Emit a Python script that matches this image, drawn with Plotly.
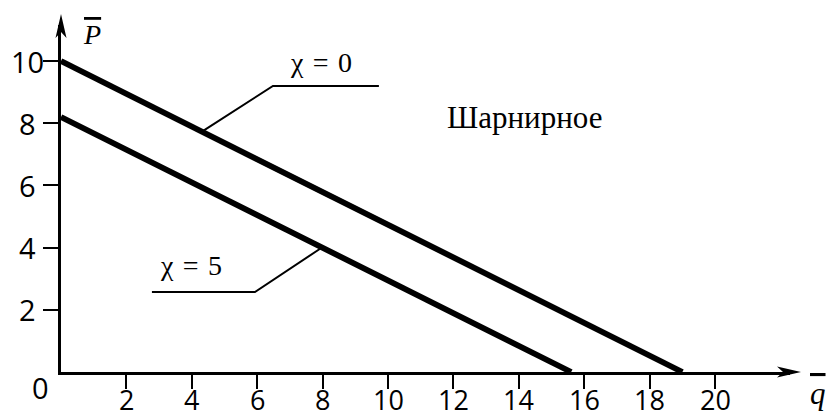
import numpy as np
import plotly.graph_objects as go

# Critical load P vs distributed load q for a hinged support, two values of chi
q_chi0 = [0.0, 19.0]
P_chi0 = [10.0, 0.0]
q_chi5 = [0.0, 15.6]
P_chi5 = [8.2, 0.0]

x_ticks = [2, 4, 6, 8, 10, 12, 14, 16, 18, 20]
y_ticks = [2, 4, 6, 8, 10]

X_MAX = 22.29
Y_MAX = 11.16

TICK_FONT = dict(family="Open Sans", size=29, color="black")
XTICK_FONT = dict(family="Open Sans", size=27, color="black")
SERIF = "Liberation Serif, Times New Roman, Times, serif"
GAP = "\u2004"  # slightly wider space around the equals sign

fig = go.Figure()

# main curves
for q, p in ((q_chi0, P_chi0), (q_chi5, P_chi5)):
    fig.add_trace(go.Scatter(x=q, y=p, mode="lines",
                             line=dict(color="black", width=5.8),
                             hoverinfo="skip", showlegend=False))

# leader lines from the labels to each curve
def leader(q_line, p_line, q_touch, q_elbow, p_elbow, q_end):
    p_touch = float(np.interp(q_touch, q_line, p_line))
    fig.add_trace(go.Scatter(x=[q_touch, q_elbow, q_end],
                             y=[p_touch, p_elbow, p_elbow],
                             mode="lines", line=dict(color="black", width=2),
                             hoverinfo="skip", showlegend=False))

leader(q_chi0, P_chi0, 4.31, 6.48, 9.20, 9.72)
leader(q_chi5, P_chi5, 7.98, 5.93, 2.57, 2.78)

# text placed in axis units, converted to paper fractions so that
# labels outside the axis ranges are still drawn
annotations = [
    dict(x=7.95, y=9.94, text=f"χ{GAP}={GAP}0", font=dict(family=SERIF, size=28)),
    dict(x=3.98, y=3.41, text=f"χ{GAP}={GAP}5", font=dict(family=SERIF, size=28)),
    dict(x=14.16, y=8.18, text="Шарнирное", font=dict(family=SERIF, size=31)),
    dict(x=0.95, y=10.87,
         text='<span style="text-decoration:overline"><i>P</i></span>',
         font=dict(family=SERIF, size=28)),
    dict(x=23.15, y=-0.68,
         text='<span style="text-decoration:overline"><i>q</i></span>',
         font=dict(family=SERIF, size=31)),
    dict(x=-0.64, y=-0.51, text="0", font=dict(TICK_FONT)),
]
for v in y_ticks:
    annotations.append(dict(x=-1.02, y=v, text=str(v), font=dict(TICK_FONT)))
for v in x_ticks:
    annotations.append(dict(x=v, y=-0.90, text=str(v), font=dict(XTICK_FONT)))

for a in annotations:
    a["x"] = a["x"] / X_MAX
    a["y"] = a["y"] / Y_MAX
    a.update(xref="paper", yref="paper", showarrow=False,
             xanchor="center", yanchor="middle")
    a["font"].setdefault("color", "black")

# arrowheads at the ends of both axes
arrow = dict(type="path", xsizemode="pixel", ysizemode="pixel",
             fillcolor="black", line=dict(width=0), layer="above")
fig.add_shape(**arrow, xref="x domain", yref="y domain", xanchor=1, yanchor=0,
              path="M 11 0 L -13 5.5 L -7 0 L -13 -5.5 Z")
fig.add_shape(**arrow, xref="x domain", yref="y domain", xanchor=0, yanchor=1,
              path="M 0 11 L 5.5 -13 L 0 -7 L -5.5 -13 Z")

axis_common = dict(showline=True, linewidth=3, linecolor="black",
                   showgrid=False, zeroline=False, ticks="outside",
                   tickwidth=2, tickcolor="black", fixedrange=True,
                   automargin=False, showticklabels=False)

fig.update_layout(
    width=827, height=420,
    margin=dict(l=61, r=37, t=25, b=48),
    paper_bgcolor="white", plot_bgcolor="white",
    xaxis=dict(range=[0, X_MAX], tickvals=x_ticks, ticklen=14, **axis_common),
    yaxis=dict(range=[0, Y_MAX], tickvals=y_ticks, ticklen=15, **axis_common),
    annotations=annotations,
    showlegend=False,
)

fig.write_html("out.html", config=dict(displayModeBar=False))
